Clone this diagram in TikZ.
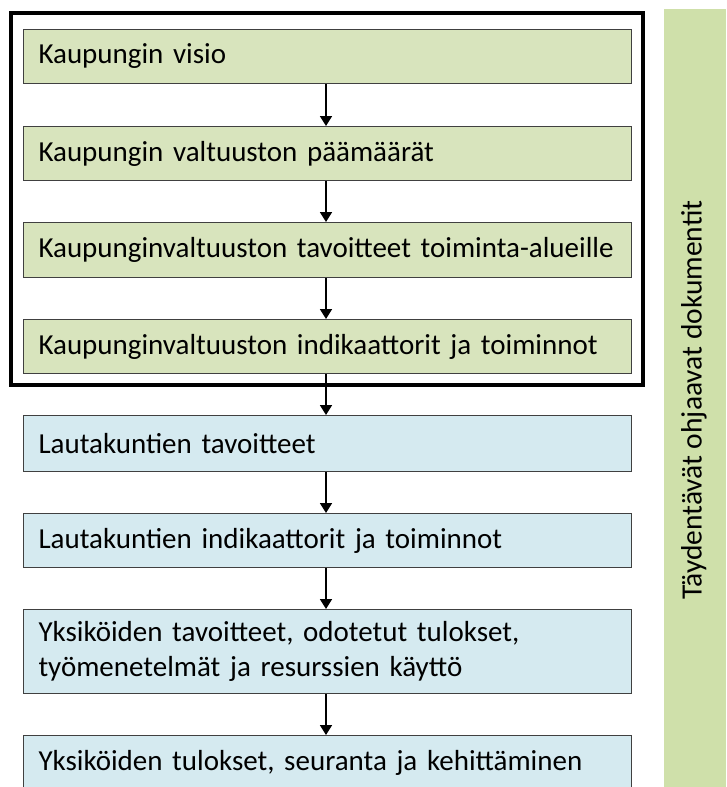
\documentclass[tikz,border=0pt]{standalone}
\usepackage{fontspec}
\setmainfont{Carlito}
\usetikzlibrary{arrows.meta}
\definecolor{boxgreen}{HTML}{D8E4BD}
\definecolor{boxblue}{HTML}{D5EAF0}
\definecolor{bargreen}{HTML}{CFE0AA}
\definecolor{edgegray}{HTML}{404040}
\tikzset{
  stage/.style={draw=edgegray, line width=1pt, anchor=north west,
    minimum width=608pt, text width=578pt, inner xsep=15pt, inner ysep=0pt,
    align=left, font=\fontsize{29}{35}\selectfont},
  council/.style={stage, fill=boxgreen},
  board/.style={stage, fill=boxblue},
  flow/.style={line width=1.8pt, -{Triangle[length=10pt,width=12pt]}},
}
\begin{document}
\begin{tikzpicture}[x=1pt,y=-1pt]
\useasboundingbox (0,0) rectangle (726,787);

% supplementary documents bar
\fill[bargreen] (664,9) rectangle (726,787);
\node[rotate=90, font=\fontsize{29.5}{35}\selectfont] (side) at (694,400) {Täydentävät ohjaavat dokumentit};

% council level stages
\node[council, minimum height=54pt] (v1) at (23,29) {Kaupungin visio};
\node[council, minimum height=54pt] (v2) at (23,126) {Kaupungin valtuuston päämäärät};
\node[council, minimum height=55pt] (v3) at (23,222) {Kaupunginvaltuuston tavoitteet toiminta-alueille};
\node[council, minimum height=54pt] (v4) at (23,319) {Kaupunginvaltuuston indikaattorit ja toiminnot};

% frame around the council level
\draw[line width=4pt] (11,13) rectangle (643,385);

% board and unit level stages
\node[board, minimum height=56pt] (b1) at (23,415) {Lautakuntien tavoitteet};
\node[board, minimum height=54pt] (b2) at (23,513) {Lautakuntien indikaattorit ja toiminnot};
\node[board, minimum height=84pt] (b3) at (23,609) {Yksiköiden tavoitteet, odotetut tulokset,\\työmenetelmät ja resurssien käyttö};
\node[board, minimum height=55pt] (b4) at (23,735) {Yksiköiden tulokset, seuranta ja kehittäminen};

% connectors
\foreach \a/\b in {v1/v2, v2/v3, v3/v4, v4/b1, b1/b2, b2/b3, b3/b4}
  \draw[flow] ([xshift=303pt]\a.south west) -- ([xshift=303pt]\b.north west);
\end{tikzpicture}
\end{document}
